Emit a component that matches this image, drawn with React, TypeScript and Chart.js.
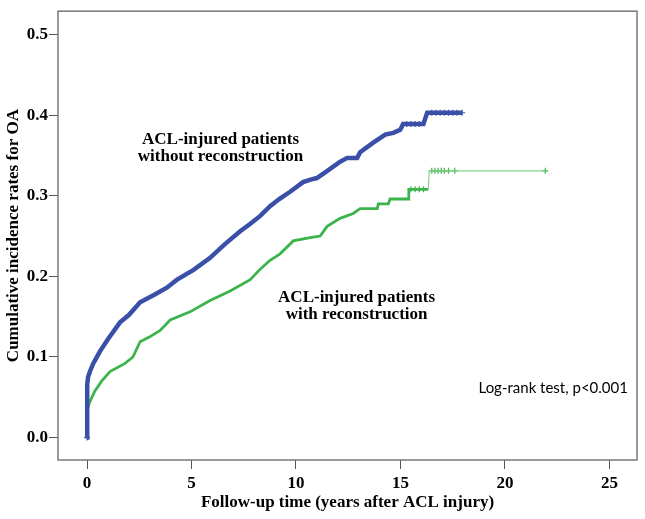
import React, { useEffect, useRef } from "react";
import { Chart, registerables } from "chart.js";

Chart.register(...registerables);

// ---- data ----
const xTicks = [0, 5, 10, 15, 20, 25];
const yTicks = [0, 0.1, 0.2, 0.3, 0.4, 0.5];

const blueX = [0, 0, 0.02, 0.05, 0.14, 0.3, 0.62, 1.0, 1.58, 2.0, 2.54, 3.2, 3.82, 4.31, 5.1, 5.89, 6.6, 7.33, 7.8, 8.29, 8.76, 9.2, 9.72, 10.34, 10.7, 11.0, 11.5, 12.1, 12.45, 12.93, 13.07, 13.7, 14.27, 14.66, 14.99, 15.13, 16.1, 16.2, 16.28, 17.95];
const blueY = [0, 0.04, 0.066, 0.075, 0.082, 0.092, 0.107, 0.122, 0.143, 0.152, 0.168, 0.177, 0.186, 0.196, 0.208, 0.223, 0.24, 0.256, 0.265, 0.275, 0.287, 0.296, 0.305, 0.317, 0.32, 0.322, 0.331, 0.342, 0.347, 0.347, 0.354, 0.366, 0.376, 0.378, 0.382, 0.389, 0.389, 0.397, 0.403, 0.403];

const greenX = [0, 0, 0.03, 0.14, 0.38, 0.7, 1.1, 1.82, 2.2, 2.54, 3.0, 3.5, 3.98, 4.93, 5.89, 6.85, 7.81, 8.29, 8.76, 9.24, 9.87, 10.68, 11.16, 11.49, 12.11, 12.74, 13.07, 13.89, 13.94, 14.42, 14.5, 15.37, 15.4, 16.33, 16.38, 21.93];
const greenY = [0, 0.02, 0.035, 0.045, 0.058, 0.07, 0.082, 0.092, 0.1, 0.119, 0.125, 0.133, 0.146, 0.156, 0.17, 0.182, 0.196, 0.209, 0.22, 0.228, 0.244, 0.248, 0.25, 0.262, 0.272, 0.278, 0.284, 0.284, 0.29, 0.29, 0.296, 0.296, 0.308, 0.308, 0.331, 0.331];

const blueCensorX = [0, 15.3, 15.5, 15.7, 15.9, 16.5, 16.7, 16.9, 17.1, 17.3, 17.5, 17.7, 17.95];
const blueCensorY = [0, 0.389, 0.389, 0.389, 0.389, 0.403, 0.403, 0.403, 0.403, 0.403, 0.403, 0.403, 0.403];
const greenCensorX = [15.5, 15.7, 15.9, 16.1, 16.5, 16.65, 16.8, 16.95, 17.1, 17.3, 17.6, 21.93];
const greenCensorY = [0.308, 0.308, 0.308, 0.308, 0.331, 0.331, 0.331, 0.331, 0.331, 0.331, 0.331, 0.331];

const xTitle = "Follow-up time (years after ACL injury)";
const yTitle = "Cumulative incidence rates for OA";
const noteWithout = ["ACL-injured patients", "without reconstruction"];
const noteWithoutAt = { x: 6.39, y: 0.3647 };
const noteWith = ["ACL-injured patients", "with reconstruction"];
const noteWithAt = { x: 12.9, y: 0.1686 };
const logRank = "Log-rank test, p<0.001";
const logRankAt = { x: 22.31, y: 0.0558 };

const BLUE = "#3a50a8";
const GREEN = "#3cb44b";
const GREEN_LIGHT = "#86d490";
const SERIF = "'Liberation Serif', 'Times New Roman', serif";

const pts = (xs: number[], ys: number[]) => xs.map((x, i) => ({ x, y: ys[i] }));

export default function App() {
  const ref = useRef<HTMLCanvasElement | null>(null);

  useEffect(() => {
    if (!ref.current) return;
    const decor = {
      id: "decor",
      afterDraw(chart: any) {
        const { ctx, chartArea, scales } = chart;
        const sx = scales.x;
        const sy = scales.y;
        ctx.save();
        ctx.strokeStyle = "#7a7a7a";
        ctx.lineWidth = 1.5;
        ctx.strokeRect(chartArea.left, chartArea.top, chartArea.right - chartArea.left, chartArea.bottom - chartArea.top);
        ctx.fillStyle = "#000";
        ctx.textAlign = "center";
        ctx.textBaseline = "alphabetic";
        ctx.font = `bold 17px ${SERIF}`;
        const drawNote = (lines: string[], at: { x: number; y: number }) => {
          const px = sx.getPixelForValue(at.x);
          const py = sy.getPixelForValue(at.y);
          lines.forEach((t, i) => ctx.fillText(t, px, py + i * 17.5));
        };
        drawNote(noteWithout, noteWithoutAt);
        drawNote(noteWith, noteWithAt);
        ctx.font = `15px Lato, 'Noto Sans', sans-serif`;
        ctx.fillText(logRank, sx.getPixelForValue(logRankAt.x), sy.getPixelForValue(logRankAt.y));
        ctx.restore();
      },
    };

    const chart = new Chart(ref.current, {
      type: "scatter",
      data: {
        datasets: [
          {
            data: pts(blueX, blueY),
            showLine: true,
            borderColor: BLUE,
            borderWidth: 4.5,
            pointRadius: 0,
            tension: 0,
          },
          {
            data: pts(greenX, greenY),
            showLine: true,
            borderColor: GREEN,
            borderWidth: 2.8,
            pointRadius: 0,
            tension: 0,
            segment: {
              borderWidth: (c: any) => (c.p0.parsed.x >= 16.3 ? 1.2 : 2.8),
              borderColor: (c: any) => (c.p0.parsed.x >= 16.3 ? GREEN_LIGHT : GREEN),
            },
          },
          {
            data: pts(blueCensorX, blueCensorY),
            showLine: false,
            pointStyle: "cross",
            pointRadius: 3,
            borderColor: BLUE,
            borderWidth: 1.2,
          },
          {
            data: pts(greenCensorX, greenCensorY),
            showLine: false,
            pointStyle: "cross",
            pointRadius: 3,
            borderColor: GREEN,
            borderWidth: 1.2,
          },
        ],
      },
      options: {
        animation: false,
        responsive: false,
        devicePixelRatio: 1,
        layout: { padding: { top: 5, right: 8, left: 0, bottom: 0 } },
        plugins: { legend: { display: false }, tooltip: { enabled: false } },
        scales: {
          x: {
            type: "linear",
            min: -1.388,
            max: 26.32,
            afterBuildTicks: (s: any) => {
              s.ticks = xTicks.map((v) => ({ value: v }));
            },
            afterFit: (s: any) => {
              s.height = 59;
            },
            grid: { display: true, drawOnChartArea: false, drawTicks: true, tickLength: 9, color: "#555" },
            border: { display: false },
            ticks: {
              color: "#000",
              padding: 4,
              maxRotation: 0,
              font: { family: SERIF, size: 17, weight: "bold" },
              callback: (v: any) => String(v),
            },
            title: {
              display: true,
              text: xTitle,
              color: "#000",
              font: { family: SERIF, size: 17, weight: "bold" },
              padding: { top: 0, bottom: 6 },
            },
          },
          y: {
            type: "linear",
            min: -0.0278,
            max: 0.529,
            afterBuildTicks: (s: any) => {
              s.ticks = yTicks.map((v) => ({ value: v }));
            },
            afterFit: (s: any) => {
              s.width = 58;
            },
            grid: { display: true, drawOnChartArea: false, drawTicks: true, tickLength: 9, color: "#555" },
            border: { display: false },
            ticks: {
              color: "#000",
              padding: 1,
              font: { family: SERIF, size: 17, weight: "bold" },
              callback: (v: any) => Number(v).toFixed(1),
            },
            title: {
              display: true,
              text: yTitle,
              color: "#000",
              font: { family: SERIF, size: 17, weight: "bold" },
              padding: { top: 3, bottom: 0 },
            },
          },
        },
      },
      plugins: [decor],
    } as any);
    return () => chart.destroy();
  }, []);

  return (
    <div style={{ position: "absolute", left: 0, top: 0, width: 645, height: 519, background: "#fff" }}>
      <canvas ref={ref} width={645} height={519} style={{ display: "block" }} />
    </div>
  );
}
